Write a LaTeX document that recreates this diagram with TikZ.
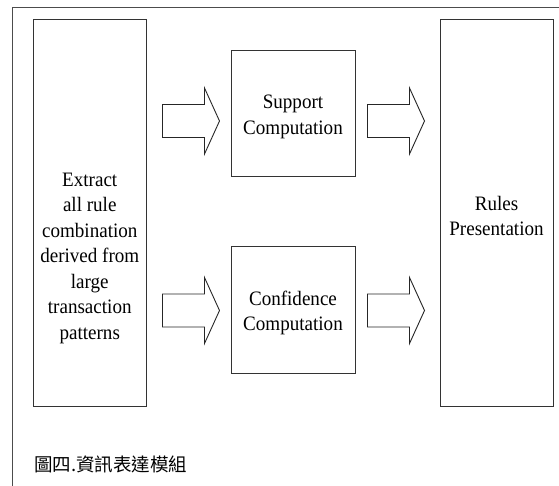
\documentclass[tikz,border=0pt]{standalone}
\usepackage{fontspec}
\setmainfont{Liberation Serif}[FakeStretch=0.93]
\newfontfamily\cjkfont{Noto Sans CJK TC}
\usetikzlibrary{calc}
\begin{document}
\begin{tikzpicture}[x=1pt,y=-1pt,
  outerframe/.style={draw=black!70, line width=1.2pt},
  blockbox/.style={draw=black!80, line width=1pt, rectangle, inner sep=0pt},
  boxtext/.style={font=\fontsize{20.5}{25.5}\selectfont, align=center, text=black, inner sep=0pt},
  fat arrow/.pic={
    \draw[black!85, line width=0.9pt, line join=miter, fill=white]
      (0,-16.5) -- (42,-16.5) -- (42,-33) -- (57,0) -- (42,33) -- (42,16.5) -- (0,16.5) -- cycle;
  }]
  \fill[white] (0,0) rectangle (559,486);
  \useasboundingbox (0,0) rectangle (559,486);

  % open page frame: top and left edges only
  \draw[outerframe] (12.7,486) -- (12.7,7.5) -- (559,7.5);

  % boxes
  \node[blockbox, minimum width=112.5pt, minimum height=387.5pt] (extract) at (89.75,213) {};
  \node[blockbox, minimum width=113pt, minimum height=387.5pt] (rules) at (496.5,213) {};
  \node[blockbox, minimum width=124pt, minimum height=126pt] (support) at (293,114) {};
  \node[blockbox, minimum width=124pt, minimum height=126pt] (confidence) at (293,310) {};

  % box texts
  \node[boxtext] (extract-text) at ($(extract.center)+(0,45)$)
    {Extract\\all rule\\combination\\derived from\\large\\transaction\\patterns};
  \node[boxtext] (support-text) at ($(support.center)+(0,3)$) {Support\\Computation};
  \node[boxtext] (confidence-text) at ($(confidence.center)+(0,3)$) {Confidence\\Computation};
  \node[boxtext] (rules-text) at ($(rules.center)+(0,3)$) {Rules\\Presentation};

  % block arrows between the stages
  \path (extract.east |- support.center) ++(16,7) pic {fat arrow};
  \path (support.east) ++(12,7) pic {fat arrow};
  \path (extract.east |- confidence.center) ++(16,0.5) pic {fat arrow};
  \path (confidence.east) ++(12,0.5) pic {fat arrow};

  % caption
  \node[anchor=west, inner sep=0pt, font=\cjkfont\fontsize{18.5}{20}\selectfont] (caption)
    at (34,464) {圖四.資訊表達模組};
\end{tikzpicture}
\end{document}
